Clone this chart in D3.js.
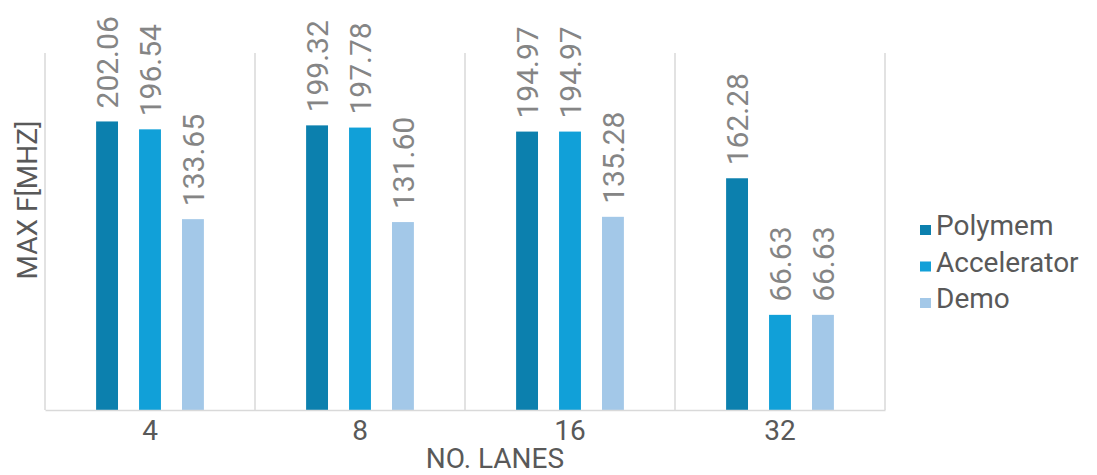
<!DOCTYPE html>
<html>
<head>
<meta charset="utf-8">
<script src="https://cdn.jsdelivr.net/npm/d3@7"></script>
<style>
  body { margin: 0; background: #fff; }
  text { font-family: Roboto, "Noto Sans", sans-serif; }
</style>
</head>
<body>
<div id="root"></div>
<script>
"use strict";

const lanes = ["4", "8", "16", "32"];
const seriesNames = ["Polymem", "Accelerator", "Demo"];
const polymem = [202.06, 199.32, 194.97, 162.28];
const accelerator = [196.54, 197.78, 194.97, 66.63];
const demo = [133.65, 131.60, 135.28, 66.63];
const colors = ["#0c80ae", "#11a0d8", "#a3c8e8"];

const width = 1097;
const height = 475;
const plot = { left: 45, right: 885, top: 53, bottom: 410 };

const rows = lanes.map((lane, i) => ({
  lane,
  values: [polymem[i], accelerator[i], demo[i]],
}));

const svg = d3.select("#root")
  .append("svg")
  .attr("width", width)
  .attr("height", height);

const x0 = d3.scaleBand().domain(lanes).range([plot.left, plot.right]);
const x1 = d3.scaleBand()
  .domain(seriesNames)
  .range([0, x0.bandwidth()])
  .paddingInner(0.49)
  .paddingOuter(1.19);
const y = d3.scaleLinear().domain([0, 250]).range([plot.bottom, plot.top]);

// category separators
svg.append("g")
  .selectAll("line")
  .data(lanes.map((d) => x0(d)).concat([plot.right]))
  .join("line")
  .attr("x1", (d) => d)
  .attr("x2", (d) => d)
  .attr("y1", plot.top)
  .attr("y2", plot.bottom)
  .attr("stroke", "#d9d9d9")
  .attr("stroke-width", 1.5);

const groups = svg.append("g")
  .selectAll("g")
  .data(rows)
  .join("g")
  .attr("transform", (d) => `translate(${x0(d.lane)},0)`);

groups.selectAll("rect")
  .data((d) => d.values.map((v, i) => ({ name: seriesNames[i], value: v, i })))
  .join("rect")
  .attr("x", (d) => x1(d.name))
  .attr("y", (d) => y(d.value))
  .attr("width", x1.bandwidth())
  .attr("height", (d) => plot.bottom - y(d.value))
  .attr("fill", (d) => colors[d.i]);

groups.selectAll("text")
  .data((d) => d.values.map((v, i) => ({ name: seriesNames[i], value: v })))
  .join("text")
  .attr("transform", (d) => `translate(${x1(d.name) + x1.bandwidth() / 2 + 11},${y(d.value) - 13}) rotate(-90)`)
  .attr("font-size", 30)
  .attr("fill", "#858585")
  .text((d) => d.value.toFixed(2));

// x axis
const xAxis = svg.append("g")
  .attr("transform", `translate(0,${plot.bottom})`)
  .call(d3.axisBottom(x0).tickSize(0).tickPadding(10));
xAxis.select(".domain").attr("stroke", "#d9d9d9").attr("stroke-width", 1.5);
xAxis.selectAll("text")
  .attr("font-size", 28)
  .attr("fill", "#595959")
  .style("font-family", "Roboto, sans-serif");

svg.append("text")
  .attr("x", 495)
  .attr("y", 468)
  .attr("text-anchor", "middle")
  .attr("font-size", 28)
  .attr("fill", "#595959")
  .text("NO. LANES");

svg.append("text")
  .attr("transform", "translate(37,200) rotate(-90)")
  .attr("text-anchor", "middle")
  .attr("font-size", 28)
  .attr("fill", "#595959")
  .text("MAX F[MHZ]");

// legend
const legend = svg.append("g")
  .selectAll("g")
  .data(seriesNames)
  .join("g")
  .attr("transform", (d, i) => `translate(920,${235 + i * 36.5})`);

legend.append("rect")
  .attr("x", 0)
  .attr("y", -10)
  .attr("width", 11)
  .attr("height", 10)
  .attr("fill", (d, i) => colors[i]);

legend.append("text")
  .attr("x", 16)
  .attr("y", 0)
  .attr("font-size", 28)
  .attr("fill", "#595959")
  .text((d) => d);
</script>
</body>
</html>
